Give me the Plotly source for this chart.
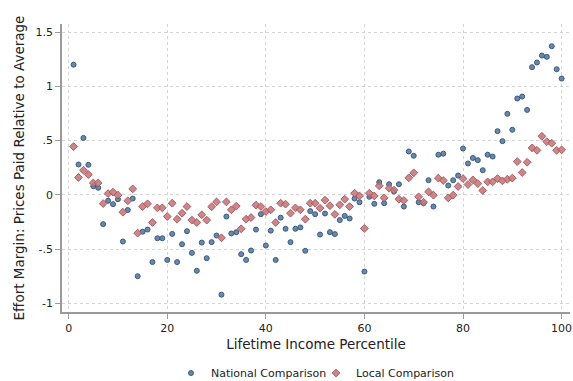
import plotly.graph_objects as go

percentile = list(range(1, 101))

national = [
    1.20, 0.28, 0.525, 0.277, 0.08, 0.065, -0.27, -0.055, -0.086, -0.04,
    -0.43, -0.14, -0.034, -0.75, -0.34, -0.32, -0.62, -0.40, -0.40, -0.60,
    -0.36, -0.62, -0.455, -0.335, -0.535, -0.70, -0.44, -0.584, -0.436, -0.375,
    -0.92, -0.20, -0.356, -0.344, -0.547, -0.60, -0.513, -0.32, -0.178, -0.467,
    -0.33, -0.60, -0.21, -0.313, -0.436, -0.313, -0.30, -0.516, -0.15, -0.178,
    -0.366, -0.172, -0.344, -0.362, -0.233, -0.194, -0.218, -0.034, -0.068, -0.707,
    -0.018, -0.083, 0.117, -0.077, 0.098, 0.031, 0.098, -0.108, 0.40, 0.36,
    -0.068, -0.077, 0.135, -0.108, 0.37, 0.38, 0.086, 0.135, 0.178, 0.427,
    0.289, 0.34, 0.32, 0.227, 0.37, 0.353, 0.587, 0.495, 0.747, 0.60,
    0.888, 0.906, 0.783, 1.177, 1.22, 1.284, 1.272, 1.37, 1.158, 1.072,
]

local = [
    0.445, 0.16, 0.227, 0.187, 0.11, 0.11, -0.08, 0.012, 0.025, -0.003,
    -0.16, -0.055, 0.055, -0.353, -0.108, -0.083, -0.255, -0.12, -0.12, -0.20,
    -0.077, -0.224, -0.169, -0.108, -0.233, -0.255, -0.184, -0.233, -0.11, -0.065,
    -0.396, -0.065, -0.138, -0.104, -0.313, -0.224, -0.209, -0.095, -0.108, -0.154,
    -0.138, -0.255, -0.077, -0.086, -0.169, -0.12, -0.138, -0.224, -0.077, -0.077,
    -0.123, -0.049, -0.10, -0.18, -0.092, -0.04, -0.108, 0.015, -0.01, -0.31,
    0.015, -0.01, 0.083, -0.028, 0.061, 0.043, -0.04, -0.052, 0.157, 0.203,
    -0.018, -0.068, 0.028, -0.003, 0.154, 0.132, -0.028, -0.003, 0.077, 0.15,
    0.095, 0.138, 0.104, 0.04, 0.12, 0.12, 0.15, 0.129, 0.144, 0.154,
    0.307, 0.206, 0.30, 0.433, 0.41, 0.54, 0.49, 0.476, 0.41, 0.415,
]

x_ticks = [0, 20, 40, 60, 80, 100]
x_ticklabels = ["0", "20", "40", "60", "80", "100"]
y_ticks = [1.5, 1, 0.5, 0, -0.5, -1]
y_ticklabels = ["1.5", "1", ".5", "0", "-.5", "-1"]

font_family = "DejaVu Sans, Liberation Sans, sans-serif"
text_color = "#222222"
axis_color = "#9a9a9a"
grid_color = "#d4d4d4"

fig = go.Figure()
fig.add_trace(go.Scatter(
    x=percentile, y=national, mode="markers", name="National Comparison",
    marker=dict(symbol="circle", size=5, color="rgba(90,124,160,0.9)",
                line=dict(color="rgba(52,86,126,0.95)", width=1)),
))
fig.add_trace(go.Scatter(
    x=percentile, y=local, mode="markers", name="Local Comparison",
    marker=dict(symbol="diamond", size=6, color="rgba(198,122,126,0.9)",
                line=dict(color="rgba(168,88,94,0.95)", width=1)),
))

fig.update_layout(
    width=573, height=381,
    margin=dict(l=62, r=3, t=24, b=69, autoexpand=False),
    paper_bgcolor="white", plot_bgcolor="white",
    font=dict(family=font_family, color=text_color, size=11),
    showlegend=True,
    legend=dict(orientation="h", x=0.5, xanchor="center", y=-0.212, yanchor="middle",
                font=dict(size=11, color=text_color), itemwidth=30,
                entrywidth=100, entrywidthmode="pixels",
                tracegroupgap=0, bgcolor="rgba(0,0,0,0)"),
)

fig.update_xaxes(
    range=[-1.35, 101.7], tickvals=x_ticks, ticktext=x_ticklabels,
    showline=True, linecolor=axis_color, linewidth=1.5,
    ticks="outside", ticklen=5, tickcolor=axis_color, tickwidth=1,
    showgrid=True, gridcolor=grid_color, griddash="dot", gridwidth=1,
    zeroline=False, tickfont=dict(size=11), automargin=False,
    ticklabeloverflow="allow",
    title=dict(text="Lifetime Income Percentile", font=dict(size=13.5), standoff=6),
)
fig.update_yaxes(
    range=[-1.08, 1.575], tickvals=y_ticks, ticktext=y_ticklabels,
    showline=True, linecolor=axis_color, linewidth=1.5,
    ticks="outside", ticklen=5, tickcolor=axis_color, tickwidth=1,
    showgrid=True, gridcolor=grid_color, griddash="dot", gridwidth=1,
    zeroline=False, tickfont=dict(size=11), automargin=False,
    ticklabeloverflow="allow",
    title=dict(text="Effort Margin: Prices Paid Relative to Average", font=dict(size=13.5), standoff=8),
)

fig.write_html("out.html")
